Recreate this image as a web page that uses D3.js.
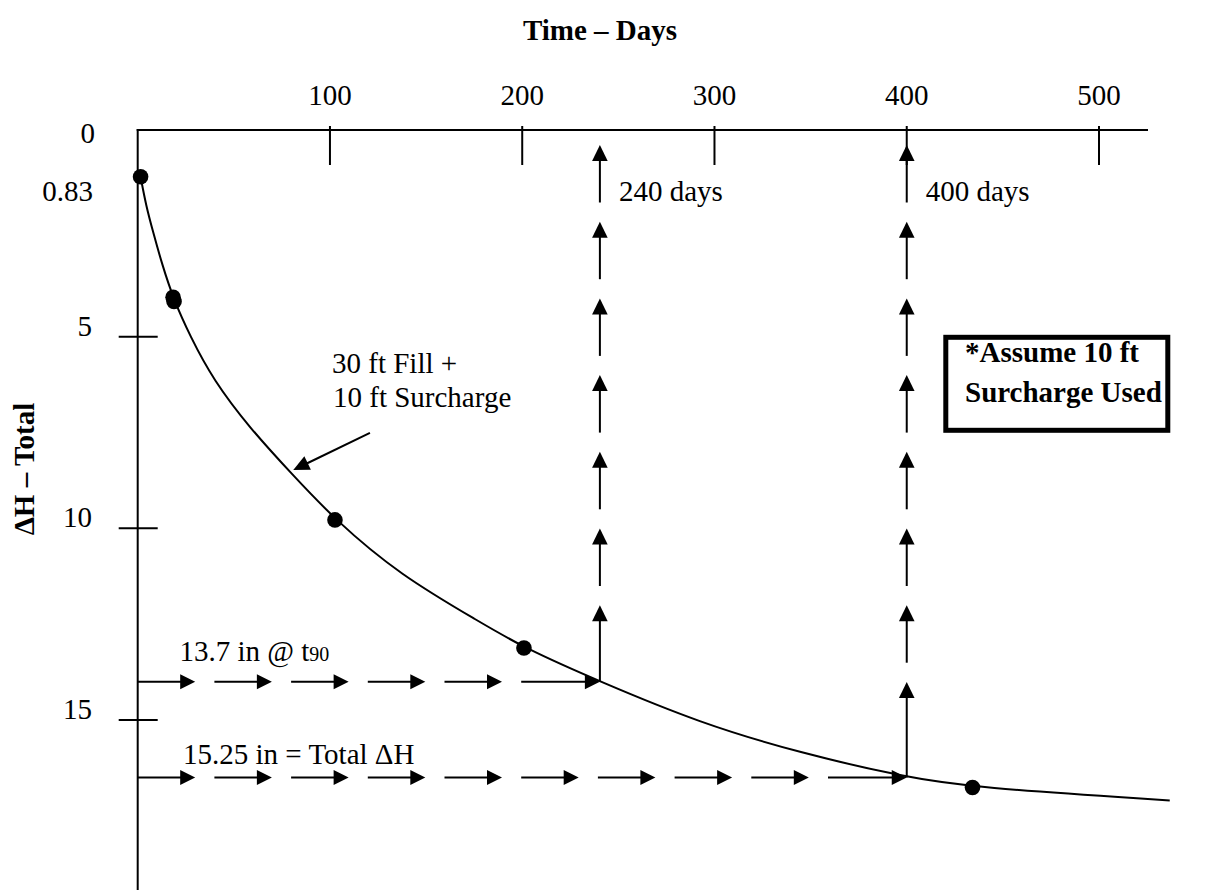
<!DOCTYPE html>
<html>
<head>
<meta charset="utf-8">
<script src="https://cdn.jsdelivr.net/npm/d3@7"></script>
<style>
  body { margin: 0; background: #fff; }
  text { font-family: "Liberation Serif", "Times New Roman", serif; fill: #000; }
</style>
</head>
<body>
<div id="chart-area"></div>
<script>
// values
const dayTicks = [100, 200, 300, 400, 500];
const depthTicks = [5, 10, 15];

const curveDays  = [1.5, 4.3, 8.0, 12.6, 18.6, 27.2, 39.3, 58.4, 79.2, 102.6, 136.5, 177.9, 200.9, 240.4, 292.4, 344.4, 400, 434.2, 536.8];
const curveDepth = [0.83, 1.57, 2.27, 3.10, 4.02, 4.98, 6.13, 7.39, 8.53, 9.78, 11.22, 12.44, 13.12, 14.0, 15.08, 15.86, 16.5, 16.76, 17.1];

const dotDays  = [1.5, 18.4, 18.9, 102.6, 200.9, 434.2];
const dotDepth = [0.83, 3.97, 4.08, 9.78, 13.12, 16.76];

const markDays = [240.4, 400];
const markDepth = [14.0, 16.5];
const markDayLabels = ["240 days", "400 days"];
const markDepthLabels = ["13.7 in @ t", "15.25 in = Total \u0394H"];

const config = {
    width: 1212,
    height: 895,
    x0: 137.7, x500: 1099,
    y0: 145, y15: 720,
    axisY: 130,
    axisRight: 1148,
    axisBottom: 890,
    font: 29
};

const svg = d3.select('#chart-area')
    .append('svg')
    .attr('width', config.width)
    .attr('height', config.height)
    .style('background', '#fff');

const xScale = d3.scaleLinear().domain([0, 500]).range([config.x0, config.x500]);
const yScale = d3.scaleLinear().domain([0, 15]).range([config.y0, config.y15]);

// title
svg.append('text')
    .attr('x', 600).attr('y', 40)
    .attr('text-anchor', 'middle')
    .attr('font-size', config.font + 'px')
    .attr('font-weight', 'bold')
    .text('Time \u2013 Days');

// y label
svg.append('text')
    .attr('transform', 'translate(34, 469) rotate(-90)')
    .attr('text-anchor', 'middle')
    .attr('font-size', config.font + 'px')
    .attr('font-weight', 'bold')
    .text('\u0394H \u2013 Total');

// axes
const axes = svg.append('g').attr('stroke', '#000').attr('stroke-width', 2);
axes.append('line')
    .attr('x1', xScale(0) - 1).attr('x2', config.axisRight)
    .attr('y1', config.axisY).attr('y2', config.axisY);
axes.append('line')
    .attr('x1', xScale(0)).attr('x2', xScale(0))
    .attr('y1', config.axisY - 1).attr('y2', config.axisBottom);

axes.selectAll('.xtick').data(dayTicks).enter().append('line')
    .attr('class', 'xtick')
    .attr('x1', d => xScale(d)).attr('x2', d => xScale(d))
    .attr('y1', config.axisY - 4).attr('y2', config.axisY + 35);

axes.selectAll('.ytick').data(depthTicks).enter().append('line')
    .attr('class', 'ytick')
    .attr('x1', xScale(0) - 19).attr('x2', xScale(0) + 20)
    .attr('y1', d => yScale(d)).attr('y2', d => yScale(d));

svg.selectAll('.xlab').data(dayTicks).enter().append('text')
    .attr('class', 'xlab')
    .attr('x', d => xScale(d)).attr('y', 105)
    .attr('text-anchor', 'middle')
    .attr('font-size', config.font + 'px')
    .text(d => d);

svg.selectAll('.ylab').data(depthTicks).enter().append('text')
    .attr('class', 'ylab')
    .attr('x', 92).attr('y', d => yScale(d) - 1)
    .attr('text-anchor', 'end')
    .attr('font-size', config.font + 'px')
    .text(d => d);

svg.append('text')
    .attr('x', 95).attr('y', 143)
    .attr('text-anchor', 'end')
    .attr('font-size', config.font + 'px')
    .text('0');
svg.append('text')
    .attr('x', 93).attr('y', yScale(dotDepth[0]) + 24)
    .attr('text-anchor', 'end')
    .attr('font-size', config.font + 'px')
    .text('0.83');

// settlement curve
const curveData = curveDays.map((d, i) => ({ t: d, v: curveDepth[i] }));
const line = d3.line()
    .x(d => xScale(d.t))
    .y(d => yScale(d.v))
    .curve(d3.curveBasis);
svg.append('path')
    .datum(curveData)
    .attr('d', line)
    .attr('fill', 'none')
    .attr('stroke', '#000')
    .attr('stroke-width', 2);

svg.selectAll('.dot').data(dotDays.map((d, i) => ({ t: d, v: dotDepth[i] })))
    .enter().append('circle')
    .attr('class', 'dot')
    .attr('cx', d => xScale(d.t))
    .attr('cy', d => yScale(d.v))
    .attr('r', 7.8)
    .attr('fill', '#000');

// arrow helper: shaft + filled head, tip at (x2, y2)
function arrow(g, x1, y1, x2, y2, len, half) {
    const dx = x2 - x1, dy = y2 - y1;
    const L = Math.hypot(dx, dy);
    const ux = dx / L, uy = dy / L;
    const bx = x2 - ux * len, by = y2 - uy * len;
    g.append('line')
        .attr('x1', x1).attr('y1', y1)
        .attr('x2', bx + ux).attr('y2', by + uy)
        .attr('stroke', '#000').attr('stroke-width', 2);
    g.append('path')
        .attr('d', `M${x2},${y2}L${bx - uy * half},${by + ux * half}L${bx + uy * half},${by - ux * half}Z`)
        .attr('fill', '#000');
}

const period = 76.7, dash = 57.5;
const arrows = svg.append('g');

markDays.forEach((t, i) => {
    const xv = xScale(t);
    const top = yScale(0);
    const bottom = yScale(markDepth[i]);
    const n = Math.round((bottom - top) / period);
    for (let k = 0; k < n; k++) {
        const tip = top + period * k;
        const tail = k === n - 1 ? bottom : tip + dash;
        arrow(arrows, xv, tail, xv, tip, 16, 7.8);
    }

    const left = xScale(0);
    const yv = yScale(markDepth[i]);
    const m = Math.round((xv - left) / period);
    for (let k = 0; k < m; k++) {
        const tail = left + period * k;
        const tip = k === m - 1 ? xv : tail + dash;
        arrow(arrows, tail, yv, tip, yv, 15, 7.5);
    }

    svg.append('text')
        .attr('x', xv + 19).attr('y', 201)
        .attr('font-size', config.font + 'px')
        .text(markDayLabels[i]);
});

const t90 = svg.append('text')
    .attr('x', 179.5).attr('y', yScale(markDepth[0]) - 21)
    .attr('font-size', config.font + 'px')
    .text(markDepthLabels[0]);
t90.append('tspan')
    .attr('font-size', '20px')
    .text('90');

svg.append('text')
    .attr('x', 183).attr('y', yScale(markDepth[1]) - 14)
    .attr('font-size', config.font + 'px')
    .text(markDepthLabels[1]);

// curve annotation
svg.append('text')
    .attr('x', 332).attr('y', 373)
    .attr('font-size', config.font + 'px')
    .text('30 ft Fill +');
svg.append('text')
    .attr('x', 333).attr('y', 406.7)
    .attr('font-size', config.font + 'px')
    .text('10 ft Surcharge');
arrow(svg.append('g'), xScale(120.8), yScale(7.51), xScale(80.9), yScale(8.48), 16, 7.5);

// note box
const box = svg.append('g');
box.append('rect')
    .attr('x', 945.8).attr('y', 337.3)
    .attr('width', 222).attr('height', 93)
    .attr('fill', '#fff')
    .attr('stroke', '#000')
    .attr('stroke-width', 5);
box.append('text')
    .attr('x', 965).attr('y', 362)
    .attr('font-size', config.font + 'px')
    .attr('font-weight', 'bold')
    .text('*Assume 10 ft');
box.append('text')
    .attr('x', 965).attr('y', 402)
    .attr('font-size', config.font + 'px')
    .attr('font-weight', 'bold')
    .text('Surcharge Used');
</script>
</body>
</html>
